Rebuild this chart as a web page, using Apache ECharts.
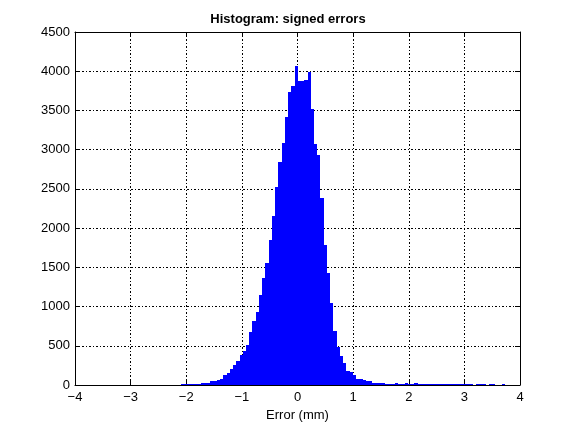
<!DOCTYPE html>
<html>
<head>
<meta charset="utf-8">
<script src="https://cdn.jsdelivr.net/npm/echarts@6/dist/echarts.min.js"></script>
<style>
html,body{margin:0;padding:0;background:#fff;}
#chart{width:576px;height:432px;}
</style>
</head>
<body>
<div id="chart"></div>
<script>
// Histogram bins (100 bins, left edge of first bin and bin width in mm)
const binStart = -2.09;
const binWidth = 0.0582;
// Counts per bin
const counts = [
  13, 13, 13, 13, 13, 13, 26, 26, 26, 51,
  51, 64, 77, 128, 153, 204, 255, 306, 383, 434,
  510, 676, 816, 931, 1148, 1365, 1556, 1849, 2156, 2526,
  2844, 3087, 3418, 3737, 3814, 4069, 3878, 3878, 3890, 3992,
  3520, 3074, 2934, 2385, 1786, 1429, 1046, 689, 485, 370,
  281, 179, 166, 128, 77, 77, 64, 51, 51, 26,
  26, 26, 26, 13, 13, 13, 26, 13, 13, 26,
  13, 13, 26, 13, 13, 13, 13, 13, 13, 13,
  13, 13, 13, 13, 13, 13, 13, 13, 13, 13,
  0, 10, 10, 10, 0, 10, 10, 0, 0, 10
];
const xTicks = [-4, -3, -2, -1, 0, 1, 2, 3, 4];
const yTicks = [0, 500, 1000, 1500, 2000, 2500, 3000, 3500, 4000, 4500];
const titleText = 'Histogram: signed errors';
const xLabel = 'Error (mm)';

const binData = counts.map((c, k) => [binStart + k * binWidth, binStart + (k + 1) * binWidth, c]);

const FONT = 'Liberation Sans, Arial, Helvetica, sans-serif';
const gridLine = {show: true, lineStyle: {color: '#000', width: 1, type: [2, 2, 1, 2]}};
const axLine = {show: true, onZero: false, lineStyle: {color: '#000', width: 1}};
const tick = {show: true, inside: true, length: 5, lineStyle: {color: '#000'}};

const chart = echarts.init(document.getElementById('chart'), null, {renderer: 'canvas'});
chart.setOption({
  animation: false,
  backgroundColor: '#fff',
  title: {
    text: titleText, left: 'center', top: 8,
    textStyle: {fontFamily: FONT, fontSize: 13, fontWeight: 'bold', color: '#000'}
  },
  grid: {left: 75, right: 56, top: 32, bottom: 47, containLabel: false},
  xAxis: [{
    type: 'value', min: xTicks[0], max: xTicks[xTicks.length - 1], interval: 1,
    position: 'bottom',
    axisLine: axLine, axisTick: tick, splitLine: gridLine,
    axisLabel: {color: '#000', fontFamily: FONT, fontSize: 13, margin: 6,
      formatter: v => (v < 0 ? '\u2212' + Math.abs(v) : String(v))},
    name: xLabel, nameLocation: 'middle', nameGap: 21,
    nameTextStyle: {color: '#000', fontFamily: FONT, fontSize: 13}
  }, {
    type: 'value', min: xTicks[0], max: xTicks[xTicks.length - 1], interval: 1,
    position: 'top',
    axisLine: axLine, axisTick: tick, splitLine: {show: false}, axisLabel: {show: false}
  }],
  yAxis: [{
    type: 'value', min: yTicks[0], max: yTicks[yTicks.length - 1], interval: 500,
    position: 'left',
    axisLine: axLine, axisTick: tick, splitLine: gridLine,
    axisLabel: {color: '#000', fontFamily: FONT, fontSize: 13, margin: 5, formatter: v => String(v)}
  }, {
    type: 'value', min: yTicks[0], max: yTicks[yTicks.length - 1], interval: 500,
    position: 'right',
    axisLine: axLine, axisTick: tick, splitLine: {show: false}, axisLabel: {show: false}
  }],
  series: [{
    type: 'custom',
    xAxisIndex: 0, yAxisIndex: 0,
    encode: {x: [0, 1], y: 2},
    data: binData,
    renderItem: function (params, api) {
      const x0 = api.value(0), x1 = api.value(1), c = api.value(2);
      if (c <= 0) return null;
      const p0 = api.coord([x0, c]);
      const p1 = api.coord([x1, 0]);
      const left = Math.round(p0[0]), right = Math.round(p1[0]);
      const top = Math.round(p0[1]), bottom = Math.round(p1[1]);
      return {
        type: 'rect',
        shape: {x: left, y: top, width: right - left, height: Math.max(1, bottom - top)},
        style: {fill: '#0000ff'}
      };
    }
  }]
});
</script>
</body>
</html>
